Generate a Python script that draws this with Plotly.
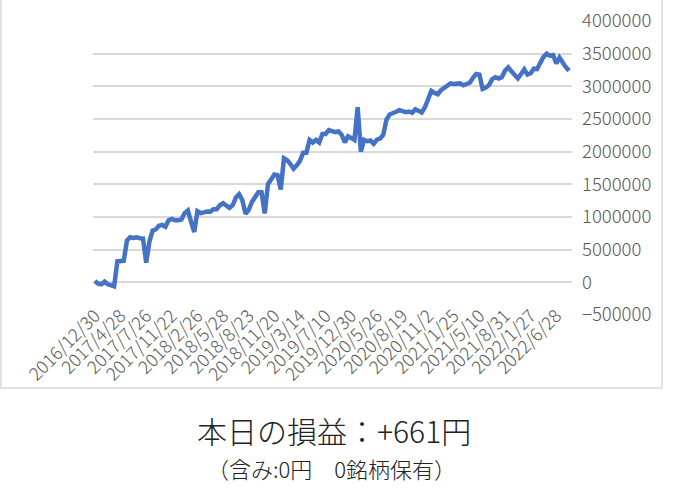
import plotly.graph_objects as go

# Profit/loss cumulative values (yen), evenly spaced trading points
pnl = [
    20000, -20000, -30000, 10000, -30000, -50000, -60000, 320000, 330000, 330000,
    640000, 690000, 680000, 690000, 675000, 670000, 300000, 620000, 790000, 810000,
    865000, 880000, 850000, 950000, 970000, 950000, 950000, 960000, 1060000, 1100000,
    930000, 770000, 1090000, 1060000, 1070000, 1085000, 1080000, 1120000, 1120000, 1180000,
    1210000, 1175000, 1140000, 1180000, 1300000, 1350000, 1260000, 1050000, 1110000, 1230000,
    1300000, 1380000, 1380000, 1055000, 1500000, 1590000, 1650000, 1640000, 1420000, 1900000,
    1870000, 1810000, 1740000, 1790000, 1860000, 1985000, 1985000, 2180000, 2140000, 2180000,
    2140000, 2270000, 2270000, 2330000, 2320000, 2300000, 2310000, 2260000, 2140000, 2235000,
    2210000, 2180000, 2680000, 2000000, 2180000, 2160000, 2170000, 2120000, 2185000, 2200000,
    2260000, 2490000, 2570000, 2600000, 2610000, 2635000, 2620000, 2605000, 2615000, 2595000,
    2650000, 2620000, 2600000, 2680000, 2820000, 2930000, 2900000, 2880000, 2940000, 2970000,
    3010000, 3045000, 3035000, 3045000, 3045000, 3015000, 3030000, 3055000, 3130000, 3190000,
    3180000, 2960000, 2980000, 3020000, 3110000, 3140000, 3120000, 3140000, 3240000, 3290000,
    3230000, 3160000, 3120000, 3190000, 3260000, 3180000, 3200000, 3270000, 3265000, 3360000,
    3450000, 3500000, 3470000, 3480000, 3350000, 3440000, 3350000, 3290000, 3240000,
]

tick_labels = [
    "2016/12/30", "2017/4/28", "2017/7/26", "2017/11/22", "2018/2/26", "2018/5/28",
    "2018/8/23", "2018/11/20", "2019/3/14", "2019/7/10", "2019/12/30", "2020/5/26",
    "2020/8/19", "2020/11/2", "2021/1/25", "2021/5/10", "2021/8/31", "2022/1/27",
    "2022/6/28",
]
label_step = 8
tick_positions = [i * label_step for i in range(len(tick_labels))]

title_text = "本日の損益：+661円"
subtitle_text = "（含み:0円\u30000銘柄保有）"

x_index = list(range(len(pnl)))

fig = go.Figure()
fig.add_trace(go.Scatter(
    x=x_index, y=pnl, mode="lines",
    line=dict(color="#4472C4", width=4.5),
    hoverinfo="skip",
))

font_family = "Noto Sans CJK JP, Noto Sans, sans-serif"

# plot area in pixels: x 93..572, y 21..315
L, R, T, B = 93, 572, 21, 315
W, H = 673, 502

def px_to_paper_x(px):
    return (px - L) / (R - L)

def px_to_paper_y(py):
    return (B - py) / (B - T)

fig.update_layout(
    width=W, height=H,
    margin=dict(l=L, r=W - R, t=T, b=H - B, autoexpand=False),
    paper_bgcolor="white",
    plot_bgcolor="white",
    showlegend=False,
    font=dict(family=font_family, color="#595959"),
    xaxis=dict(
        range=[-0.6, 148.9],
        tickmode="array",
        tickvals=tick_positions,
        ticktext=tick_labels,
        tickangle=-45,
        tickfont=dict(size=18, color="#595959", weight=300),
        showgrid=False,
        zeroline=False,
        showline=False,
        ticks="outside",
        ticklen=15,
        tickcolor="rgba(0,0,0,0)",
        anchor="free",
        position=500000 / 4500000,
        automargin=False,
    ),
    yaxis=dict(
        range=[-500000, 4000000],
        side="right",
        dtick=500000,
        tick0=0,
        tickformat="d",
        tickfont=dict(size=18.5, color="#595959", weight=300),
        showgrid=True,
        gridcolor="#d9d9d9",
        gridwidth=1.5,
        zeroline=False,
        showline=False,
        ticks="",
        ticklabelstandoff=9,
        automargin=False,
    ),
    shapes=[dict(
        type="rect", xref="paper", yref="paper",
        x0=px_to_paper_x(1), x1=px_to_paper_x(662),
        y0=px_to_paper_y(388), y1=px_to_paper_y(-5),
        line=dict(color="#d9d9d9", width=1.5),
        fillcolor="rgba(0,0,0,0)", layer="below",
    )],
    annotations=[
        dict(text=title_text, xref="paper", yref="paper",
             x=px_to_paper_x(334), y=px_to_paper_y(430),
             xanchor="center", yanchor="middle", showarrow=False,
             font=dict(size=30, color="#222222", family=font_family, weight=300)),
        dict(text=subtitle_text, xref="paper", yref="paper",
             x=px_to_paper_x(331), y=px_to_paper_y(468),
             xanchor="center", yanchor="middle", showarrow=False,
             font=dict(size=22, color="#222222", family=font_family, weight=300)),
    ],
)

fig.write_html("out.html", config={"displayModeBar": False},
               post_script="document.body.style.margin='0';")
